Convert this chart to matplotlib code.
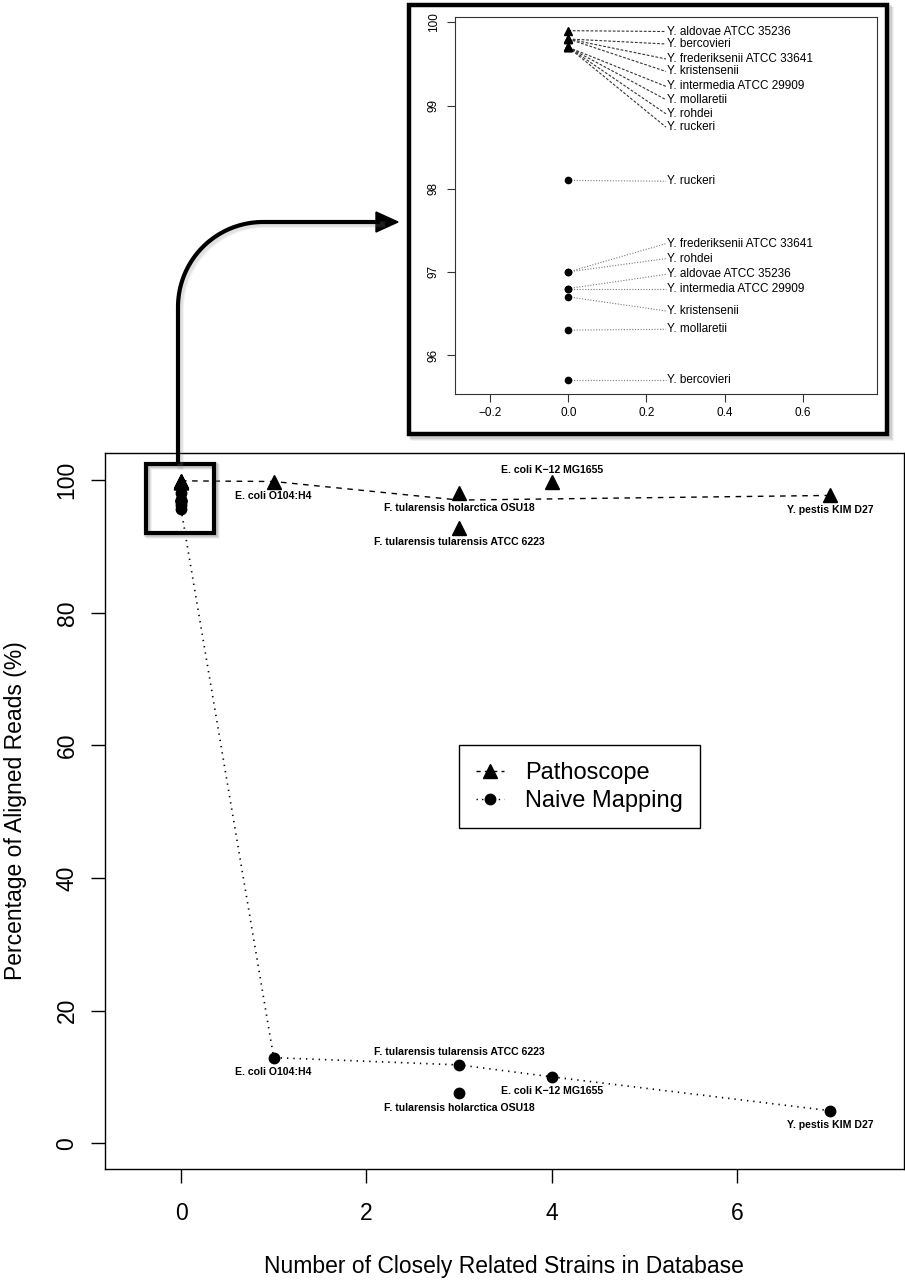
"""
Pathoscope vs naive mapping: percentage of aligned reads against the number of
closely related strains in the database, with a zoomed inset for the Yersinia
strains at x = 0.
"""

import numpy as np
import matplotlib.pyplot as plt
from matplotlib.lines import Line2D
from matplotlib.patches import Rectangle, Polygon

plt.rcParams["font.family"] = ["Liberation Sans", "DejaVu Sans"]

# ── Data: main panel ──────────────────────────────────────────────────────────
strains   = ["E. coli O104:H4", "F. tularensis holarctica OSU18",
             "F. tularensis tularensis ATCC 6223", "E. coli K\u221212 MG1655",
             "Y. pestis KIM D27"]
n_related = [1, 3, 3, 4, 7]
patho_pct = [99.8, 98.0, 92.8, 99.8, 97.7]
naive_pct = [12.9, 7.5, 11.8, 10.0, 4.9]

# which side of the point each label sits on
patho_side = ["below", "below", "below", "above", "below"]
naive_side = ["below", "below", "above", "below", "below"]

# connecting lines as drawn in the original
patho_line_x = [0, 1, 3, 7]
patho_line_y = [99.9, 99.8, 97.0, 97.7]
naive_line_x = [0, 1, 3, 4, 7]
naive_line_y = [95.7, 12.9, 11.8, 10.0, 4.9]

# ── Data: Yersinia strains at x = 0 (inset) ───────────────────────────────────
yersinia   = ["Y. aldovae ATCC 35236", "Y. bercovieri",
              "Y. frederiksenii ATCC 33641", "Y. kristensenii",
              "Y. intermedia ATCC 29909", "Y. mollaretii", "Y. rohdei",
              "Y. ruckeri"]
yers_patho = [99.9, 99.8, 99.8, 99.8, 99.7, 99.7, 99.7, 99.7]
yers_naive = [96.8, 95.7, 97.0, 96.7, 96.8, 96.3, 97.0, 98.1]

# label heights in the inset (spread out so they don't overlap)
patho_label_y = [99.89, 99.74, 99.56, 99.41, 99.23, 99.07, 98.90, 98.74]
naive_label_y = [96.97, 95.70, 97.34, 96.53, 96.80, 96.31, 97.16, 98.09]

W, H = 905, 1280


def fx(px):
    return px / W


def fy(py):
    return 1 - py / H


fig = plt.figure(figsize=(W / 100, H / 100), dpi=100)

# ── Main axes ─────────────────────────────────────────────────────────────────
ax = fig.add_axes([fx(105), fy(1169), fx(904 - 105), (1169 - 453) / H])
ax.set_xlim(-0.82, 7.8)
ax.set_ylim(-3.9, 104.1)
for s in ax.spines.values():
    s.set_linewidth(1.0)

ax.plot(patho_line_x, patho_line_y, color="black", lw=1.0, dashes=(4, 4))
ax.plot(naive_line_x, naive_line_y, color="black", lw=1.2, dashes=(0.8, 3.0))

ax.plot([0] * len(yers_patho), yers_patho, "^", color="black", ms=10, ls="none")
ax.plot(n_related, patho_pct, "^", color="black", ms=10, ls="none")
ax.plot([0] * len(yers_naive), yers_naive, "o", color="black", ms=7.5, ls="none")
ax.plot(n_related, naive_pct, "o", color="black", ms=7.5, ls="none")

for name, x, y, side in zip(strains, n_related, patho_pct, patho_side):
    dy = -10.5 if side == "below" else 8.5
    ax.annotate(name, (x, y), xytext=(0, dy), textcoords="offset points",
                ha="center", va="center", fontsize=7.6, fontweight="bold")
for name, x, y, side in zip(strains, n_related, naive_pct, naive_side):
    dy = -10.5 if side == "below" else 9
    ax.annotate(name, (x, y), xytext=(0, dy), textcoords="offset points",
                ha="center", va="center", fontsize=7.6, fontweight="bold")

ax.set_xticks([0, 2, 4, 6])
ax.set_yticks([0, 20, 40, 60, 80, 100])
ax.tick_params(axis="both", length=10, width=1.0, labelsize=16.5)
ax.tick_params(axis="x", pad=14)
ax.tick_params(axis="y", pad=9)
for lab in ax.get_yticklabels():
    lab.set_rotation(90)
    lab.set_va("center")

fig.text(fx(504), fy(1267), "Number of Closely Related Strains in Database",
         ha="center", va="center", fontsize=16.5)
fig.text(fx(16), fy(811), "Percentage of Aligned Reads (%)",
         ha="center", va="center", rotation=90, fontsize=16.5)

handles = [
    Line2D([], [], color="black", lw=1.0, dashes=(3, 3), marker="^", ms=10),
    Line2D([], [], color="black", lw=1.0, dashes=(1, 3), marker="o", ms=7.5),
]
leg = ax.legend(handles, ["Pathoscope", "Naive Mapping"], loc="upper left",
                bbox_to_anchor=(3, 60), bbox_transform=ax.transData,
                borderaxespad=0, fontsize=17, fancybox=False,
                edgecolor="black", framealpha=1, handlelength=1.2,
                handletextpad=0.9, borderpad=0.7, labelspacing=0.25)
leg.get_frame().set_linewidth(1.0)

# highlight box around x = 0 cluster (with a soft shadow)
for off, a in [(3, 0.12), (2, 0.18), (1, 0.25)]:
    ax.add_patch(Rectangle((-0.375 + off * 0.011, 92.05 - off * 0.15), 0.728, 10.35,
                           fill=False, lw=4, edgecolor="gray", alpha=a, zorder=4))
ax.add_patch(Rectangle((-0.375, 92.05), 0.728, 10.35, fill=False, lw=3,
                       edgecolor="black", zorder=5))

# ── Curved arrow from the box to the inset ────────────────────────────────────
theta = np.linspace(np.pi, np.pi / 2, 40)
arc_x = 263 + 85 * np.cos(theta)
arc_y = 307 - 85 * np.sin(theta)
path_x = np.concatenate([[178, 178], arc_x, [380]])
path_y = np.concatenate([[464, 307], arc_y, [222]])
for off, a in [(3, 0.10), (2, 0.15)]:
    fig.add_artist(Line2D(fx(path_x + off), fy(path_y + off), color="gray",
                          lw=4, alpha=a, transform=fig.transFigure))
fig.add_artist(Line2D(fx(path_x), fy(path_y), color="black", lw=3,
                      transform=fig.transFigure, solid_capstyle="butt"))
fig.add_artist(Polygon([[fx(376), fy(212)], [fx(398), fy(222)], [fx(376), fy(232)]],
                       closed=True, color="black", transform=fig.transFigure))

# ── Inset frame ───────────────────────────────────────────────────────────────
for off, a in [(4, 0.10), (3, 0.15), (2, 0.2)]:
    fig.add_artist(Rectangle((fx(409 + off), fy(434 + off)), fx(478), (434 - 5) / H,
                             fill=False, lw=3.5, edgecolor="gray", alpha=a,
                             transform=fig.transFigure))
fig.add_artist(Rectangle((fx(409), fy(434)), fx(478), (434 - 5) / H,
                         facecolor="white", lw=3.2, edgecolor="black",
                         transform=fig.transFigure, zorder=2))

# ── Inset axes ────────────────────────────────────────────────────────────────
ax2 = fig.add_axes([fx(455), fy(394), fx(877 - 455), (394 - 16.7) / H], zorder=3)
ax2.set_xlim(-0.29, 0.79)
ax2.set_ylim(95.532, 100.068)
for s in ax2.spines.values():
    s.set_linewidth(0.8)
    s.set_color("#333333")

label_x = 0.25
for name, y, ly in zip(yersinia, yers_patho, patho_label_y):
    ax2.plot([0, label_x], [y, ly], color="#333333", lw=0.8, dashes=(2.5, 1.5))
    ax2.text(label_x + 0.003, ly, name, ha="left", va="center", fontsize=8.5)
for name, y, ly in zip(yersinia, yers_naive, naive_label_y):
    ax2.plot([0, label_x], [y, ly], color="#777777", lw=0.8, dashes=(1, 1.5))
    ax2.text(label_x + 0.003, ly, name, ha="left", va="center", fontsize=8.5)

ax2.plot([0] * len(yers_patho), yers_patho, "^", color="black", ms=5.5, ls="none")
ax2.plot([0] * len(yers_naive), yers_naive, "o", color="black", ms=4.5, ls="none")

ax2.set_xticks([-0.2, 0.0, 0.2, 0.4, 0.6])
ax2.set_xticklabels(["\u22120.2", "0.0", "0.2", "0.4", "0.6"])
ax2.set_yticks([96, 97, 98, 99, 100])
ax2.tick_params(axis="both", length=6, width=0.8, labelsize=8.5, color="#333333")
ax2.tick_params(axis="y", pad=5)
for lab in ax2.get_yticklabels():
    lab.set_rotation(90)
    lab.set_va("center")

fig.savefig("out.png", dpi=100)
